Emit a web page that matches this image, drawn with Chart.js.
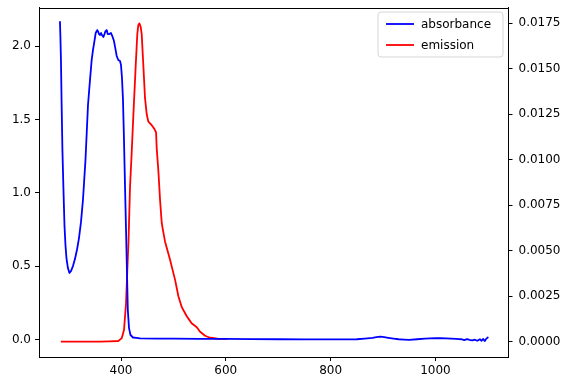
<!DOCTYPE html>
<html lang="en">
<head>
    <meta charset="UTF-8">
    <title>Absorbance and Emission</title>
    <script src="https://cdn.jsdelivr.net/npm/chart.js"></script>
    <style>
        html, body {
            margin: 0;
            padding: 0;
            background: #fff;
        }

        #wrap {
            width: 565px;
            height: 378px;
        }
    </style>
</head>
<body>
    <div id="wrap">
        <canvas id="spectrum"></canvas>
    </div>
    <script>
        // absorbance spectrum (left axis)
        const absWavelength = [283.5, 284.4, 285.4, 286.7, 288.2, 290.2, 292.1, 294, 295.9, 298.7, 301.6, 304.5, 308.3, 312.1, 315.9, 319.8, 323.6, 327.4, 332.2, 337, 340.8, 344, 346.5, 349, 351.7, 354.7, 356.6, 358, 359.9, 361.8, 363.7, 366.2, 368.5, 370.4, 372.7, 374.6, 377.6, 380.9, 383.4, 386.6, 389.1, 391.8, 394.8, 398.1, 400, 401.9, 403.8, 405.7, 407.6, 409.6, 411.5, 413, 415.3, 418.1, 422.9, 436.3, 500, 600, 700, 800, 850, 880, 895, 910, 930, 950, 980, 1000, 1020, 1040, 1050, 1055, 1060, 1065, 1070, 1075, 1080, 1085, 1088, 1091, 1094, 1097, 1100];
        const absValues = [2.166, 2.06, 1.906, 1.6, 1.293, 1.02, 0.781, 0.645, 0.556, 0.488, 0.454, 0.467, 0.501, 0.549, 0.611, 0.692, 0.801, 0.952, 1.225, 1.6, 1.77, 1.906, 1.975, 2.029, 2.091, 2.111, 2.098, 2.084, 2.077, 2.091, 2.077, 2.063, 2.084, 2.104, 2.111, 2.084, 2.084, 2.091, 2.07, 2.036, 1.988, 1.934, 1.907, 1.9, 1.872, 1.784, 1.634, 1.361, 1.054, 0.747, 0.44, 0.201, 0.078, 0.031, 0.014, 0.008, 0.006, 0.004, 0.002, 0.001, 0.002, 0.012, 0.02, 0.012, 0.002, -0.002, 0.006, 0.01, 0.008, 0.004, 0.002, -0.004, 0.003, -0.002, -0.006, -0.001, -0.008, 0.002, -0.009, 0.004, -0.011, 0.005, 0.014];

        // emission spectrum (right axis)
        const emWavelength = [286.7, 321.7, 359.9, 394.8, 401.3, 405.7, 409.6, 412, 414.3, 417.2, 420.4, 423.5, 428.1, 431.1, 433, 435, 437.6, 439.5, 442.6, 445.8, 449.1, 452.2, 458.6, 463.6, 466.9, 468.2, 471.3, 474.5, 477.8, 484.1, 493.6, 503.2, 509.5, 516, 525.5, 535.1, 544.6, 550.9, 560.5, 570, 585.9, 601.9];
        const emValues = [0, 0, 0, 0.00004, 0.00019, 0.00064, 0.0021, 0.0039, 0.0055, 0.0085, 0.0104, 0.0124, 0.0152, 0.0169, 0.0174, 0.0175, 0.0173, 0.0169, 0.0152, 0.0134, 0.0125, 0.0121, 0.0119, 0.0117, 0.0115, 0.0106, 0.0094, 0.0078, 0.0065, 0.0055, 0.0045, 0.0034, 0.0025, 0.0019, 0.0014, 0.001, 0.0008, 0.00055, 0.00033, 0.00022, 0.00016, 0.00016];

        const seriesLabels = ['absorbance', 'emission'];
        const xTicks = [400, 600, 800, 1000];
        const leftTicks = [0, 0.5, 1.0, 1.5, 2.0];
        const rightTicks = [0, 0.0025, 0.005, 0.0075, 0.01, 0.0125, 0.015, 0.0175];

        const FONT = { family: 'DejaVu Sans', size: 12 };

        const toPoints = (xs, ys) => xs.map((x, i) => ({ x: x, y: ys[i] }));

        // top spine (the axes draw the other three) and a matplotlib style legend
        const framePlugin = {
            id: 'frame',
            afterDatasetsDraw(chart) {
                const { ctx, chartArea } = chart;
                ctx.save();
                ctx.strokeStyle = '#000';
                ctx.lineWidth = 1;
                const top = Math.round(chartArea.top) + 0.5;
                ctx.beginPath();
                ctx.moveTo(chartArea.left, top);
                ctx.lineTo(chartArea.right, top);
                ctx.stroke();

                // legend
                const bx = 378, by = 12, bw = 125, bh = 45, r = 3;
                ctx.beginPath();
                ctx.moveTo(bx + r, by);
                ctx.arcTo(bx + bw, by, bx + bw, by + bh, r);
                ctx.arcTo(bx + bw, by + bh, bx, by + bh, r);
                ctx.arcTo(bx, by + bh, bx, by, r);
                ctx.arcTo(bx, by, bx + bw, by, r);
                ctx.closePath();
                ctx.fillStyle = 'rgba(255,255,255,0.8)';
                ctx.fill();
                ctx.strokeStyle = '#d6d6d6';
                ctx.stroke();

                ctx.font = FONT.size + 'px ' + FONT.family;
                ctx.textBaseline = 'middle';
                chart.data.datasets.forEach((ds, i) => {
                    const y = by + 12 + i * 21;
                    ctx.strokeStyle = ds.borderColor;
                    ctx.lineWidth = 1.8;
                    ctx.beginPath();
                    ctx.moveTo(bx + 8, y);
                    ctx.lineTo(bx + 36, y);
                    ctx.stroke();
                    ctx.fillStyle = '#000';
                    ctx.fillText(ds.label, bx + 43, y + 1);
                });
                ctx.restore();
            }
        };

        const axisStyle = {
            grid: { display: true, drawOnChartArea: false, drawTicks: true, tickLength: 4, color: '#000' },
            border: { display: true, color: '#000', width: 1 }
        };

        // tiny tension keeps Chart.js off its fast path, which draws jogs on steep lines
        const lineStyle = {
            borderWidth: 1.8,
            borderJoinStyle: 'round',
            borderCapStyle: 'round',
            pointRadius: 0,
            tension: 0.0001
        };

        new Chart(document.getElementById('spectrum'), {
            type: 'line',
            data: {
                datasets: [{
                    label: seriesLabels[0],
                    data: toPoints(absWavelength, absValues),
                    borderColor: '#0000ff',
                    ...lineStyle,
                    yAxisID: 'y'
                }, {
                    label: seriesLabels[1],
                    data: toPoints(emWavelength, emValues),
                    borderColor: '#ff0000',
                    ...lineStyle,
                    yAxisID: 'y1'
                }]
            },
            options: {
                responsive: true,
                maintainAspectRatio: false,
                animation: false,
                layout: { padding: { top: 7.5, left: 0, right: 0, bottom: 0 } },
                plugins: {
                    legend: { display: false },
                    tooltip: { enabled: false }
                },
                scales: {
                    x: {
                        type: 'linear',
                        min: 243.5,
                        max: 1139.5,
                        ...axisStyle,
                        ticks: { font: FONT, color: '#000', padding: 3, maxRotation: 0, callback: v => String(v) },
                        afterBuildTicks: (s) => { s.ticks = xTicks.map(v => ({ value: v })); },
                        afterFit: (s) => { s.height = 21; s.paddingLeft = 0; s.paddingRight = 0; }
                    },
                    y: {
                        position: 'left',
                        min: -0.119,
                        max: 2.265,
                        ...axisStyle,
                        ticks: { font: FONT, color: '#000', padding: 4, callback: v => v.toFixed(1) },
                        afterBuildTicks: (s) => { s.ticks = leftTicks.map(v => ({ value: v })); },
                        afterFit: (s) => { s.width = 39; s.paddingTop = 0; s.paddingBottom = 0; }
                    },
                    y1: {
                        position: 'right',
                        min: -0.00084,
                        max: 0.01837,
                        ...axisStyle,
                        ticks: { font: FONT, color: '#000', padding: 6, callback: v => v.toFixed(4) },
                        afterBuildTicks: (s) => { s.ticks = rightTicks.map(v => ({ value: v })); },
                        afterFit: (s) => { s.width = 56.5; s.paddingTop = 0; s.paddingBottom = 0; }
                    }
                }
            },
            plugins: [framePlugin]
        });
    </script>
</body>
</html>
